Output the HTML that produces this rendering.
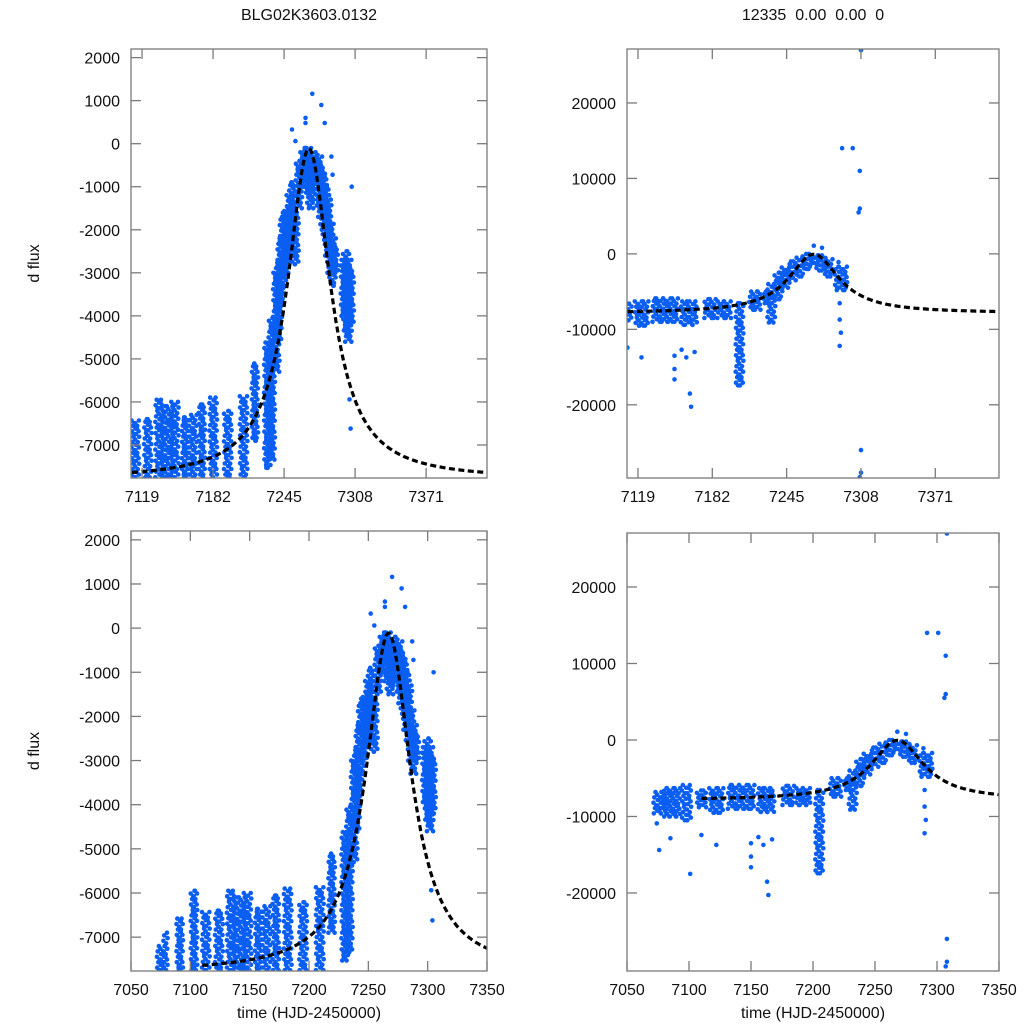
<!DOCTYPE html>
<html><head><meta charset="utf-8">
<style>
html,body{margin:0;padding:0;background:#fff;}
svg{display:block;font-family:"Liberation Sans",sans-serif;}
</style></head>
<body>
<svg id="chart" width="1024" height="1024" viewBox="0 0 1024 1024" xmlns="http://www.w3.org/2000/svg"></svg>
<script>
// ---- data: columns [time, spanDays, fluxLow, fluxHigh] and single outliers [time, flux]
const leftCols = [
 [7075,3,-7750,-7200],[7079,1,-7750,-6900],[7091,2,-7750,-6580],[7103,2,-7750,-5950],
 [7113,3,-7750,-6430],[7124,3,-7750,-6400],[7134,3,-7750,-5950],[7141,6,-7750,-6100],
 [7148,3,-7750,-6000],[7157,2,-7750,-6360],[7164,3,-7750,-6300],[7172,2,-7750,-6060],
 [7182,3,-7750,-5900],[7195,3,-7750,-6210],[7209,3,-7750,-5870],[7219,2,-6900,-5110],
 [7230,2,-7530,-4620],[7234,2,-7340,-4050],
 [7238,2,-5300,-3000],[7240,2,-4600,-2700],[7242,2,-3800,-2200],[7244,2,-3300,-1700],
 [7246,2,-3000,-1600],[7248,2,-2700,-1500],[7250,2,-2600,-1200],[7252,2,-2300,-900],
 [7255,2,-2800,-1600],[7258,2,-1500,-400],[7262,2,-1000,-200],[7264,2,-800,-100],
 [7266,2,-1200,-100],[7268,2,-1500,-300],[7270,2,-1300,-400],[7272,2,-900,-200],
 [7276,2,-1500,-300],[7278,2,-1700,-500],[7280,2,-2000,-700],[7282,2,-2300,-1000],
 [7284,2,-2600,-1300],[7286,2,-3000,-1800],[7288,2,-3300,-2200],[7290,2,-3000,-2400],
 [7298,2,-4000,-2700],[7300,2,-4400,-2500],[7302,2,-4600,-2700],[7304,2,-4200,-2900]
];
const leftOut = [[7252,330],[7255,60],[7264,480],[7264,600],[7270,1160],[7278,900],[7281,480],[7288,-720],[7303,-5940],[7304,-6620],[7305,-1000],[7287,-300]];
const rightCols = [
 [7076,6,-9600,-6800],[7086,10,-10000,-6300],[7098,4,-10500,-5900],[7110,4,-8800,-6600],
 [7122,8,-9500,-6300],[7142,18,-9000,-5900],[7162,10,-9400,-6300],[7180,6,-8500,-6000],
 [7192,8,-8500,-6300],[7205,3,-17430,-6540],[7218,6,-7400,-5000],[7228,2,-6540,-5010],
 [7232,3,-9100,-4000],[7238,3,-6000,-2500],[7244,3,-4500,-1800],[7250,4,-3500,-1000],
 [7256,4,-3000,-500],[7262,4,-2000,0],[7268,4,-1500,-200],[7274,4,-2200,-200],
 [7280,4,-3000,-700],[7291,7,-4800,-1700]
];
const rightOut = [[7074,-10900],[7076,-14380],[7085,-12850],[7101,-17500],[7110,-12420],[7122,-13720],
 [7150,-13500],[7150,-15250],[7150,-16640],[7156,-12700],[7160,-13720],[7163,-18520],[7164,-20260],[7167,-13000],
 [7268,1090],[7275,800],[7289,-1090],[7290,-6540],[7290,-8710],[7291,-10450],[7290,-12200],
 [7292,14000],[7301,14000],[7307,11000],[7307,6000],[7306,5500],[7308,27000],[7308,-26000],[7308,-29000],[7307,-29600]];
// model curve parameters
const fitLeft = [7267,23,-7800,-115];   // t0, width, base, peak
const fitRight = [7268,26,-7850,-50];

const xTicksTop = [7119,7182,7245,7308,7371];
const xTicksBot = [7050,7100,7150,7200,7250,7300,7350];
const yTicksLeft = [2000,1000,0,-1000,-2000,-3000,-4000,-5000,-6000,-7000];
const yTicksRight = [20000,10000,0,-10000,-20000];

const NS="http://www.w3.org/2000/svg";
const svg=document.getElementById('chart');
function mk(tag,attrs,parent){const e=document.createElementNS(NS,tag);for(const k in attrs)e.setAttribute(k,attrs[k]);(parent||svg).appendChild(e);return e;}

const panels=[
 {id:'top-left',L:131,R:487,T:49,B:478,x0:7109.2,x1:7425,y0:-7767,y1:2200,xt:xTicksTop,yt:yTicksLeft,cols:leftCols,out:leftOut,fit:fitLeft,ylabel:true,xlabel:false},
 {id:'top-right',L:627,R:999,T:49,B:478,x0:7109.7,x1:7425,y0:-29700,y1:27150,xt:xTicksTop,yt:yTicksRight,cols:rightCols,out:rightOut,fit:fitRight,ylabel:false,xlabel:false},
 {id:'bottom-left',L:131,R:487,T:531,B:971,x0:7050,x1:7350,y0:-7767,y1:2200,xt:xTicksBot,yt:yTicksLeft,cols:leftCols,out:leftOut,fit:fitLeft,ylabel:true,xlabel:true},
 {id:'bottom-right',L:627,R:999,T:533,B:971,x0:7050,x1:7350,y0:-30200,y1:27060,xt:xTicksBot,yt:yTicksRight,cols:rightCols,out:rightOut,fit:fitRight,ylabel:false,xlabel:true}
];
const jit=[0,1.6,-1.2,2.2,-2,0.8,-0.6,1.9,-1.7,0.3];

panels.forEach((p,pi)=>{
 const sx=t=>p.L+(t-p.x0)/(p.x1-p.x0)*(p.R-p.L);
 const sy=f=>p.B-(f-p.y0)/(p.y1-p.y0)*(p.B-p.T);
 const g=mk('g',{});
 
 
 const cid='clip'+pi;
 const cp=mk('clipPath',{id:cid},g);
 mk('rect',{x:p.L,y:p.T,width:p.R-p.L,height:p.B-p.T},cp);
 const dots=mk('g',{'clip-path':'url(#'+cid+')',fill:'#0b5ef2'},g);
 
 
 p.cols.forEach((c,ci)=>{
  const xa=sx(c[0]-c[1]/2), xb=sx(c[0]+c[1]/2);
  const ya=sy(c[3]), yb=sy(c[2]);
  const nx=Math.max(1,Math.round((xb-xa)/3.5)+1);
  const ny=Math.max(1,Math.ceil((yb-ya)/2.8));
  for(let i=0;i<nx;i++){for(let j=0;j<=ny;j++){
   const cx=(nx===1?(xa+xb)/2:xa+i*(xb-xa)/(nx-1))+jit[(i*3+j+ci)%10];
   const cy=ya+j*(yb-ya)/ny;
   const d=mk('circle',{cx:cx.toFixed(1),cy:cy.toFixed(1),r:2.3},dots);
   
   
  }}
 });
 p.out.forEach(o=>{
  const d=mk('circle',{cx:sx(o[0]).toFixed(1),cy:sy(o[1]).toFixed(1),r:2.3},dots);
  
  
 });
 const [t0,w,base,peak]=p.fit;
 let pts=[];
 for(let t=7110;t<=p.x1;t+=1){
  const f=base+(peak-base)/(1+((t-t0)/w)**2);
  pts.push(sx(t).toFixed(1)+','+sy(f).toFixed(1));
 }
 const cv=mk('polyline',{points:pts.join(' '),fill:'none',stroke:'#000','stroke-width':3.2,'stroke-dasharray':'6 3.5','clip-path':'url(#'+cid+')'},g);
 
 
 const fr=mk('rect',{x:p.L,y:p.T,width:p.R-p.L,height:p.B-p.T,fill:'none',stroke:'#7a7a7a','stroke-width':1.3},g);
 
 
 p.xt.forEach(t=>{
  const x=sx(t);
  mk('line',{x1:x,x2:x,y1:p.B,y2:p.B-10,stroke:'#7a7a7a','stroke-width':1.3},g);
  mk('line',{x1:x,x2:x,y1:p.T,y2:p.T+10,stroke:'#7a7a7a','stroke-width':1.3},g);
  const tx=mk('text',{x:x,y:p.B+24,'font-size':16,'text-anchor':'middle',fill:'#111'},g);
  tx.textContent=t;
  
  
 });
 p.yt.forEach(v=>{
  const y=sy(v);
  mk('line',{x1:p.L,x2:p.L+10,y1:y,y2:y,stroke:'#7a7a7a','stroke-width':1.3},g);
  mk('line',{x1:p.R,x2:p.R-10,y1:y,y2:y,stroke:'#7a7a7a','stroke-width':1.3},g);
  const tx=mk('text',{x:p.L-11,y:y+6,'font-size':16,'text-anchor':'end',fill:'#111'},g);
  tx.textContent=v;
  
  
 });
 if(p.ylabel){
  const yl=mk('text',{x:0,y:0,'font-size':16,'text-anchor':'middle',fill:'#111',transform:'translate(39,'+((p.T+p.B)/2)+') rotate(-90)'},g);
  yl.textContent='d flux';
  
  
 }
 if(p.xlabel){
  const xl=mk('text',{x:(p.L+p.R)/2,y:1018,'font-size':16,'text-anchor':'middle',fill:'#111'},g);
  xl.textContent='time (HJD-2450000)';
  
  
 }
});
const t1=mk('text',{x:309,y:20,'font-size':16,'text-anchor':'middle',fill:'#111'});
t1.textContent='BLG02K3603.0132';


const t2=mk('text',{x:813,y:20,'font-size':16,'text-anchor':'middle',fill:'#111'});
t2.textContent='12335  0.00  0.00  0';


t2.style.whiteSpace='pre';
</script>
</body></html>
